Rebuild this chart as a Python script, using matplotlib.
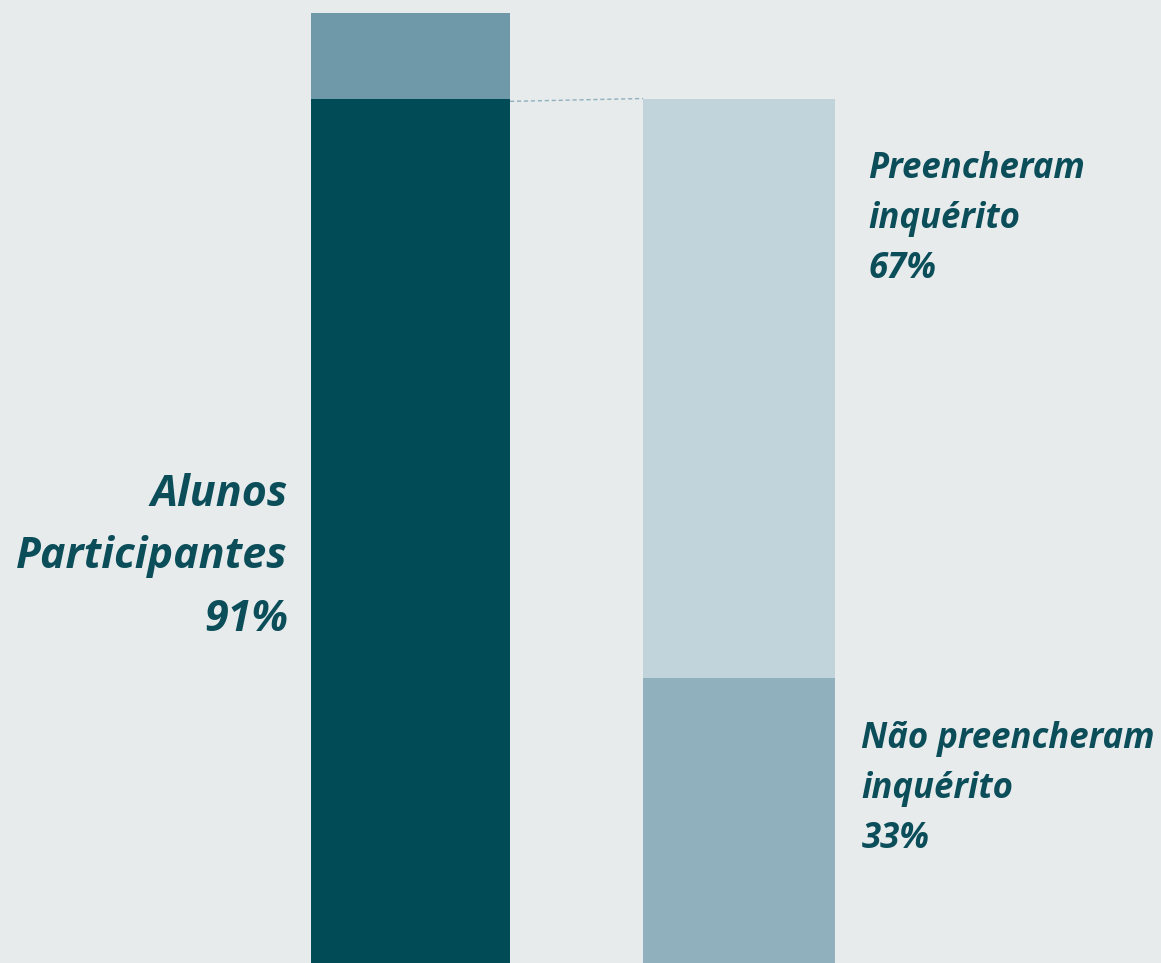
import matplotlib.pyplot as plt

# data (percent)
participantes = 91
nao_participantes = 9
preencheram = 67
nao_preencheram = 33

bg = '#e7ebec'
txt = '#0b4e5a'

fig = plt.figure(figsize=(11.61, 9.63), dpi=100)
fig.patch.set_facecolor(bg)
ax = fig.add_axes([0, 0, 1, 1])
ax.set_facecolor(bg)

# left bar: all students
ax.bar(0, participantes, width=0.606, color='#014b57')
ax.bar(0, nao_participantes, width=0.606, bottom=participantes, color='#6f99a9')

# right bar: breakdown of participants
low = participantes * nao_preencheram / 100
high = participantes * preencheram / 100
ax.bar(1, low, width=0.584, color='#91b0be')
ax.bar(1, high, width=0.584, bottom=low, color='#c1d4db')

# dashed connector
ax.plot([0.303, 0.708], [participantes - 0.3, participantes], ls=(0, (3, 2)),
        color='#8fb0bd', lw=1)

ax.set_xlim(-1.2496, 2.2846)
ax.set_ylim(0, 101.37)
ax.axis('off')

font = dict(family='Open Sans', weight='bold', style='italic', color=txt)
ax.text(0.248, 0.4216, 'Alunos\nParticipantes\n%d%%' % participantes,
        transform=ax.transAxes, ha='right', va='center', ma='right',
        fontsize=31, linespacing=1.58, **font)
ax.text(0.748, 0.773, 'Preencheram\ninquérito\n%d%%' % preencheram,
        transform=ax.transAxes, ha='left', va='center',
        fontsize=25, linespacing=1.52, **font)
ax.text(0.742, 0.181, 'Não preencheram\ninquérito\n%d%%' % nao_preencheram,
        transform=ax.transAxes, ha='left', va='center',
        fontsize=25, linespacing=1.52, **font)

plt.savefig('out.png', facecolor=bg)
plt.close()
